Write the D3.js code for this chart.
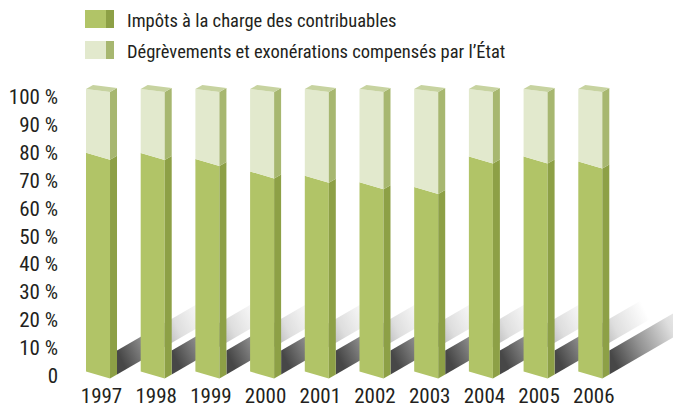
<!DOCTYPE html>
<html><head><meta charset="utf-8">
<script src="https://cdn.jsdelivr.net/npm/d3@7"></script>
<style>
html,body{margin:0;padding:0;background:#fff;}
text{font-family:"Liberation Sans Narrow","Arial Narrow","Roboto Condensed","Liberation Sans",sans-serif;fill:#231f20;}
</style></head>
<body>
<svg id="chart" width="673" height="408"></svg>
<script>
const years = ["1997","1998","1999","2000","2001","2002","2003","2004","2005","2006"];
const contribuables = [78.4, 78.3, 76.2, 71.7, 70.2, 67.8, 66.1, 77.1, 77.1, 75.3];
const compenses     = [21.6, 21.7, 23.8, 28.3, 29.8, 32.2, 33.9, 22.9, 22.9, 24.7];
const yTicks = [0,10,20,30,40,50,60,70,80,90,100];
const seriesNames = ["Impôts à la charge des contribuables","Dégrèvements et exonérations compensés par l’État"];

const colors = {
  darkFront:"#b1c467", darkSide:"#8da046",
  lightFront:"#e2e9cd", lightSide:"#a7b770",
  top:"#c7d3a0"
};

const svg = d3.select("#chart");
const x = d3.scaleBand().domain(years).range([86, 602.3]).paddingInner(0.561).paddingOuter(0);
const y = d3.scaleLinear().domain([0,100]).range([375, 96]);

const w = x.bandwidth();
const dx = 7, dz = -4;      // depth vector
const sk = 7;               // front-face slant
const skTop = 3;
const overhang = 5.5;

// shadows
const defs = svg.append("defs");
const grad = defs.append("linearGradient").attr("id","shadowGrad")
  .attr("x1","0").attr("y1","0.7").attr("x2","1").attr("y2","0.3");
grad.append("stop").attr("offset","0").attr("stop-color","#474747");
grad.append("stop").attr("offset","0.3").attr("stop-color","#939393");
grad.append("stop").attr("offset","0.65").attr("stop-color","#dedede");
grad.append("stop").attr("offset","1").attr("stop-color","#ffffff");

const L = 95, slope = 0.58, sh = 24;
const line = pts => "M" + pts.map(p => p.join(",")).join("L") + "Z";

svg.append("g").selectAll("path").data(years).join("path")
  .attr("fill","url(#shadowGrad)")
  .attr("d", d => {
    const sx = x(d) + w + dx, y0 = y(0) + sk/2 + dz;
    return line([[sx, y0],[sx, y0 - sh],[sx + L, y0 - sh - L*slope],[sx + L, y0 - L*slope]]);
  });

// bars
const g = svg.append("g");
years.forEach((yr, i) => {
  const x0 = x(yr), x1 = x0 + w, x2 = x1 + dx;
  const yb = y(0), yd = y(contribuables[i]), yt = y(contribuables[i] + compenses[i]) - overhang;
  const h = sk/2, ht = skTop/2;
  g.append("path").attr("fill", colors.darkFront)
    .attr("d", line([[x0, yb-h],[x1, yb+h],[x1, yd+h],[x0, yd-h]]));
  g.append("path").attr("fill", colors.darkSide)
    .attr("d", line([[x1, yb+h],[x2, yb+h+dz],[x2, yd+h+dz],[x1, yd+h]]));
  g.append("path").attr("fill", colors.lightFront)
    .attr("d", line([[x0, yd-h],[x1, yd+h],[x1, yt+ht],[x0, yt-ht]]));
  g.append("path").attr("fill", colors.lightSide)
    .attr("d", line([[x1, yd+h],[x2, yd+h+dz],[x2, yt+ht+dz],[x1, yt+ht]]));
  g.append("path").attr("fill", colors.top)
    .attr("d", line([[x0, yt-ht],[x1, yt+ht],[x2, yt+ht+dz],[x0+dx, yt-ht+dz]]));
});

// year labels
svg.append("g").selectAll("text").data(years).join("text")
  .attr("x", d => x(d) + (w + dx)/2).attr("y", 403)
  .attr("text-anchor","middle").attr("font-size", 21).text(d => d);

// y axis
const yAxis = svg.append("g").attr("transform","translate(58,0)")
  .call(d3.axisLeft(y).tickValues(yTicks).tickFormat(d => d === 0 ? "0" : d + " %").tickSize(0).tickPadding(0));
yAxis.select(".domain").remove();
yAxis.selectAll("text").attr("font-size", 21).attr("dy","0.36em")
  .style("font-family",'"Liberation Sans Narrow","Arial Narrow","Roboto Condensed","Liberation Sans",sans-serif')
  .style("fill","#231f20");

// legend
const legend = svg.append("g");
const legendRows = [
  {name: seriesNames[0], front: colors.darkFront, side: colors.darkSide, y: 10, base: 27},
  {name: seriesNames[1], front: colors.lightFront, side: colors.lightSide, y: 41, base: 57.5}
];
legendRows.forEach(r => {
  legend.append("rect").attr("x",85).attr("y",r.y).attr("width",21).attr("height",18).attr("fill",r.front);
  legend.append("rect").attr("x",106).attr("y",r.y).attr("width",8).attr("height",18).attr("fill",r.side);
  legend.append("text").attr("x",127).attr("y",r.base).attr("font-size",18.5).text(r.name);
});
</script>
</body></html>
